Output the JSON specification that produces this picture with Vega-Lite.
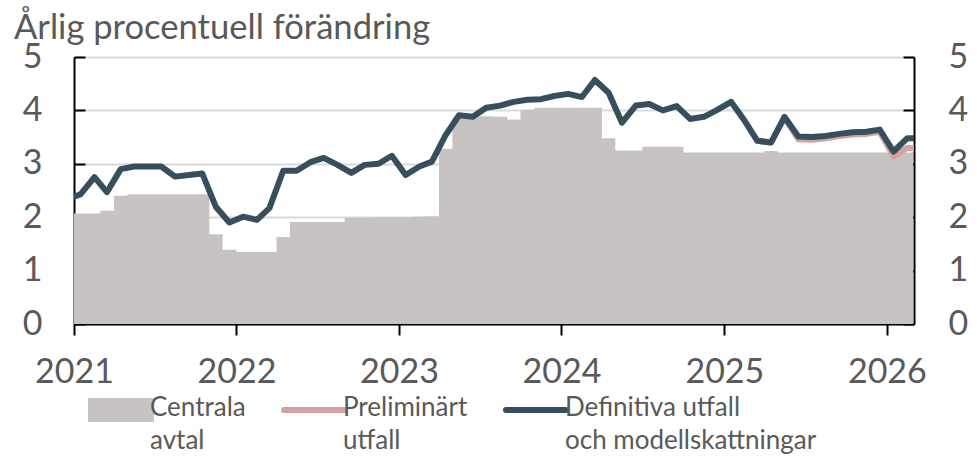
{
  "$schema": "https://vega.github.io/schema/vega-lite/v6.json",
  "width": 840,
  "height": 267,
  "autosize": {"type": "none"},
  "padding": {"left": 74, "top": 57, "right": 63, "bottom": 133},
  "background": "white",
  "config": {
    "view": {"stroke": null},
    "font": "Lato"
  },
  "title": {
    "text": "Årlig procentuell förändring",
    "anchor": "start",
    "frame": "group",
    "dx": -60,
    "offset": -7,
    "font": "Lato",
    "fontSize": 34.6,
    "fontWeight": "normal",
    "color": "#595959"
  },
  "datasets": {
    "avtal": [
      {"date": "2021-01-01T00:00", "value": 2.07, "serie": "Centrala avtal"},
      {"date": "2021-02-01T00:00", "value": 2.07, "serie": "Centrala avtal"},
      {"date": "2021-03-01T00:00", "value": 2.12, "serie": "Centrala avtal"},
      {"date": "2021-04-01T00:00", "value": 2.40, "serie": "Centrala avtal"},
      {"date": "2021-05-01T00:00", "value": 2.43, "serie": "Centrala avtal"},
      {"date": "2021-06-01T00:00", "value": 2.43, "serie": "Centrala avtal"},
      {"date": "2021-07-01T00:00", "value": 2.43, "serie": "Centrala avtal"},
      {"date": "2021-08-01T00:00", "value": 2.43, "serie": "Centrala avtal"},
      {"date": "2021-09-01T00:00", "value": 2.43, "serie": "Centrala avtal"},
      {"date": "2021-10-01T00:00", "value": 2.43, "serie": "Centrala avtal"},
      {"date": "2021-11-01T00:00", "value": 1.68, "serie": "Centrala avtal"},
      {"date": "2021-12-01T00:00", "value": 1.39, "serie": "Centrala avtal"},
      {"date": "2022-01-01T00:00", "value": 1.35, "serie": "Centrala avtal"},
      {"date": "2022-02-01T00:00", "value": 1.35, "serie": "Centrala avtal"},
      {"date": "2022-03-01T00:00", "value": 1.35, "serie": "Centrala avtal"},
      {"date": "2022-04-01T00:00", "value": 1.63, "serie": "Centrala avtal"},
      {"date": "2022-05-01T00:00", "value": 1.91, "serie": "Centrala avtal"},
      {"date": "2022-06-01T00:00", "value": 1.91, "serie": "Centrala avtal"},
      {"date": "2022-07-01T00:00", "value": 1.91, "serie": "Centrala avtal"},
      {"date": "2022-08-01T00:00", "value": 1.91, "serie": "Centrala avtal"},
      {"date": "2022-09-01T00:00", "value": 1.99, "serie": "Centrala avtal"},
      {"date": "2022-10-01T00:00", "value": 1.99, "serie": "Centrala avtal"},
      {"date": "2022-11-01T00:00", "value": 2.00, "serie": "Centrala avtal"},
      {"date": "2022-12-01T00:00", "value": 2.00, "serie": "Centrala avtal"},
      {"date": "2023-01-01T00:00", "value": 2.00, "serie": "Centrala avtal"},
      {"date": "2023-02-01T00:00", "value": 2.01, "serie": "Centrala avtal"},
      {"date": "2023-03-01T00:00", "value": 2.02, "serie": "Centrala avtal"},
      {"date": "2023-04-01T00:00", "value": 3.28, "serie": "Centrala avtal"},
      {"date": "2023-05-01T00:00", "value": 3.86, "serie": "Centrala avtal"},
      {"date": "2023-06-01T00:00", "value": 3.88, "serie": "Centrala avtal"},
      {"date": "2023-07-01T00:00", "value": 3.89, "serie": "Centrala avtal"},
      {"date": "2023-08-01T00:00", "value": 3.88, "serie": "Centrala avtal"},
      {"date": "2023-09-01T00:00", "value": 3.83, "serie": "Centrala avtal"},
      {"date": "2023-10-01T00:00", "value": 4.01, "serie": "Centrala avtal"},
      {"date": "2023-11-01T00:00", "value": 4.05, "serie": "Centrala avtal"},
      {"date": "2023-12-01T00:00", "value": 4.05, "serie": "Centrala avtal"},
      {"date": "2024-01-01T00:00", "value": 4.05, "serie": "Centrala avtal"},
      {"date": "2024-02-01T00:00", "value": 4.05, "serie": "Centrala avtal"},
      {"date": "2024-03-01T00:00", "value": 4.05, "serie": "Centrala avtal"},
      {"date": "2024-04-01T00:00", "value": 3.48, "serie": "Centrala avtal"},
      {"date": "2024-05-01T00:00", "value": 3.25, "serie": "Centrala avtal"},
      {"date": "2024-06-01T00:00", "value": 3.25, "serie": "Centrala avtal"},
      {"date": "2024-07-01T00:00", "value": 3.32, "serie": "Centrala avtal"},
      {"date": "2024-08-01T00:00", "value": 3.32, "serie": "Centrala avtal"},
      {"date": "2024-09-01T00:00", "value": 3.32, "serie": "Centrala avtal"},
      {"date": "2024-10-01T00:00", "value": 3.21, "serie": "Centrala avtal"},
      {"date": "2024-11-01T00:00", "value": 3.21, "serie": "Centrala avtal"},
      {"date": "2024-12-01T00:00", "value": 3.21, "serie": "Centrala avtal"},
      {"date": "2025-01-01T00:00", "value": 3.21, "serie": "Centrala avtal"},
      {"date": "2025-02-01T00:00", "value": 3.21, "serie": "Centrala avtal"},
      {"date": "2025-03-01T00:00", "value": 3.21, "serie": "Centrala avtal"},
      {"date": "2025-04-01T00:00", "value": 3.24, "serie": "Centrala avtal"},
      {"date": "2025-05-01T00:00", "value": 3.21, "serie": "Centrala avtal"},
      {"date": "2025-06-01T00:00", "value": 3.21, "serie": "Centrala avtal"},
      {"date": "2025-07-01T00:00", "value": 3.21, "serie": "Centrala avtal"},
      {"date": "2025-08-01T00:00", "value": 3.21, "serie": "Centrala avtal"},
      {"date": "2025-09-01T00:00", "value": 3.21, "serie": "Centrala avtal"},
      {"date": "2025-10-01T00:00", "value": 3.21, "serie": "Centrala avtal"},
      {"date": "2025-11-01T00:00", "value": 3.21, "serie": "Centrala avtal"},
      {"date": "2025-12-01T00:00", "value": 3.21, "serie": "Centrala avtal"},
      {"date": "2026-01-01T00:00", "value": 3.21, "serie": "Centrala avtal"},
      {"date": "2026-02-01T00:00", "value": 3.21, "serie": "Centrala avtal"},
      {"date": "2026-03-01T00:00", "value": 3.21, "serie": "Centrala avtal"}
    ],
    "prel": [
      {"date": "2025-03-16T00:00", "value": 3.43, "serie": "Preliminärt utfall"},
      {"date": "2025-04-16T00:00", "value": 3.40, "serie": "Preliminärt utfall"},
      {"date": "2025-05-16T00:00", "value": 3.86, "serie": "Preliminärt utfall"},
      {"date": "2025-06-16T00:00", "value": 3.46, "serie": "Preliminärt utfall"},
      {"date": "2025-07-16T00:00", "value": 3.45, "serie": "Preliminärt utfall"},
      {"date": "2025-08-16T00:00", "value": 3.48, "serie": "Preliminärt utfall"},
      {"date": "2025-09-16T00:00", "value": 3.52, "serie": "Preliminärt utfall"},
      {"date": "2025-10-16T00:00", "value": 3.55, "serie": "Preliminärt utfall"},
      {"date": "2025-11-16T00:00", "value": 3.56, "serie": "Preliminärt utfall"},
      {"date": "2025-12-16T00:00", "value": 3.60, "serie": "Preliminärt utfall"},
      {"date": "2026-01-16T00:00", "value": 3.14, "serie": "Preliminärt utfall"},
      {"date": "2026-02-16T00:00", "value": 3.30, "serie": "Preliminärt utfall"},
      {"date": "2026-03-16T00:00", "value": 3.28, "serie": "Preliminärt utfall"}
    ],
    "def": [
      {"date": "2020-12-16T00:00", "value": 2.33, "serie": "Definitiva utfall och modellskattningar"},
      {"date": "2021-01-16T00:00", "value": 2.43, "serie": "Definitiva utfall och modellskattningar"},
      {"date": "2021-02-16T00:00", "value": 2.75, "serie": "Definitiva utfall och modellskattningar"},
      {"date": "2021-03-16T00:00", "value": 2.47, "serie": "Definitiva utfall och modellskattningar"},
      {"date": "2021-04-16T00:00", "value": 2.90, "serie": "Definitiva utfall och modellskattningar"},
      {"date": "2021-05-16T00:00", "value": 2.95, "serie": "Definitiva utfall och modellskattningar"},
      {"date": "2021-06-16T00:00", "value": 2.95, "serie": "Definitiva utfall och modellskattningar"},
      {"date": "2021-07-16T00:00", "value": 2.95, "serie": "Definitiva utfall och modellskattningar"},
      {"date": "2021-08-16T00:00", "value": 2.76, "serie": "Definitiva utfall och modellskattningar"},
      {"date": "2021-09-16T00:00", "value": 2.79, "serie": "Definitiva utfall och modellskattningar"},
      {"date": "2021-10-16T00:00", "value": 2.82, "serie": "Definitiva utfall och modellskattningar"},
      {"date": "2021-11-16T00:00", "value": 2.19, "serie": "Definitiva utfall och modellskattningar"},
      {"date": "2021-12-16T00:00", "value": 1.90, "serie": "Definitiva utfall och modellskattningar"},
      {"date": "2022-01-16T00:00", "value": 2.01, "serie": "Definitiva utfall och modellskattningar"},
      {"date": "2022-02-16T00:00", "value": 1.95, "serie": "Definitiva utfall och modellskattningar"},
      {"date": "2022-03-16T00:00", "value": 2.17, "serie": "Definitiva utfall och modellskattningar"},
      {"date": "2022-04-16T00:00", "value": 2.87, "serie": "Definitiva utfall och modellskattningar"},
      {"date": "2022-05-16T00:00", "value": 2.87, "serie": "Definitiva utfall och modellskattningar"},
      {"date": "2022-06-16T00:00", "value": 3.03, "serie": "Definitiva utfall och modellskattningar"},
      {"date": "2022-07-16T00:00", "value": 3.11, "serie": "Definitiva utfall och modellskattningar"},
      {"date": "2022-08-16T00:00", "value": 2.98, "serie": "Definitiva utfall och modellskattningar"},
      {"date": "2022-09-16T00:00", "value": 2.83, "serie": "Definitiva utfall och modellskattningar"},
      {"date": "2022-10-16T00:00", "value": 2.98, "serie": "Definitiva utfall och modellskattningar"},
      {"date": "2022-11-16T00:00", "value": 3.00, "serie": "Definitiva utfall och modellskattningar"},
      {"date": "2022-12-16T00:00", "value": 3.15, "serie": "Definitiva utfall och modellskattningar"},
      {"date": "2023-01-16T00:00", "value": 2.79, "serie": "Definitiva utfall och modellskattningar"},
      {"date": "2023-02-16T00:00", "value": 2.95, "serie": "Definitiva utfall och modellskattningar"},
      {"date": "2023-03-16T00:00", "value": 3.04, "serie": "Definitiva utfall och modellskattningar"},
      {"date": "2023-04-16T00:00", "value": 3.54, "serie": "Definitiva utfall och modellskattningar"},
      {"date": "2023-05-16T00:00", "value": 3.91, "serie": "Definitiva utfall och modellskattningar"},
      {"date": "2023-06-16T00:00", "value": 3.88, "serie": "Definitiva utfall och modellskattningar"},
      {"date": "2023-07-16T00:00", "value": 4.05, "serie": "Definitiva utfall och modellskattningar"},
      {"date": "2023-08-16T00:00", "value": 4.09, "serie": "Definitiva utfall och modellskattningar"},
      {"date": "2023-09-16T00:00", "value": 4.16, "serie": "Definitiva utfall och modellskattningar"},
      {"date": "2023-10-16T00:00", "value": 4.20, "serie": "Definitiva utfall och modellskattningar"},
      {"date": "2023-11-16T00:00", "value": 4.21, "serie": "Definitiva utfall och modellskattningar"},
      {"date": "2023-12-16T00:00", "value": 4.27, "serie": "Definitiva utfall och modellskattningar"},
      {"date": "2024-01-16T00:00", "value": 4.31, "serie": "Definitiva utfall och modellskattningar"},
      {"date": "2024-02-16T00:00", "value": 4.25, "serie": "Definitiva utfall och modellskattningar"},
      {"date": "2024-03-16T00:00", "value": 4.57, "serie": "Definitiva utfall och modellskattningar"},
      {"date": "2024-04-16T00:00", "value": 4.33, "serie": "Definitiva utfall och modellskattningar"},
      {"date": "2024-05-16T00:00", "value": 3.77, "serie": "Definitiva utfall och modellskattningar"},
      {"date": "2024-06-16T00:00", "value": 4.09, "serie": "Definitiva utfall och modellskattningar"},
      {"date": "2024-07-16T00:00", "value": 4.12, "serie": "Definitiva utfall och modellskattningar"},
      {"date": "2024-08-16T00:00", "value": 4.00, "serie": "Definitiva utfall och modellskattningar"},
      {"date": "2024-09-16T00:00", "value": 4.08, "serie": "Definitiva utfall och modellskattningar"},
      {"date": "2024-10-16T00:00", "value": 3.84, "serie": "Definitiva utfall och modellskattningar"},
      {"date": "2024-11-16T00:00", "value": 3.88, "serie": "Definitiva utfall och modellskattningar"},
      {"date": "2024-12-16T00:00", "value": 4.01, "serie": "Definitiva utfall och modellskattningar"},
      {"date": "2025-01-16T00:00", "value": 4.16, "serie": "Definitiva utfall och modellskattningar"},
      {"date": "2025-02-16T00:00", "value": 3.80, "serie": "Definitiva utfall och modellskattningar"},
      {"date": "2025-03-16T00:00", "value": 3.43, "serie": "Definitiva utfall och modellskattningar"},
      {"date": "2025-04-16T00:00", "value": 3.40, "serie": "Definitiva utfall och modellskattningar"},
      {"date": "2025-05-16T00:00", "value": 3.88, "serie": "Definitiva utfall och modellskattningar"},
      {"date": "2025-06-16T00:00", "value": 3.51, "serie": "Definitiva utfall och modellskattningar"},
      {"date": "2025-07-16T00:00", "value": 3.50, "serie": "Definitiva utfall och modellskattningar"},
      {"date": "2025-08-16T00:00", "value": 3.52, "serie": "Definitiva utfall och modellskattningar"},
      {"date": "2025-09-16T00:00", "value": 3.56, "serie": "Definitiva utfall och modellskattningar"},
      {"date": "2025-10-16T00:00", "value": 3.59, "serie": "Definitiva utfall och modellskattningar"},
      {"date": "2025-11-16T00:00", "value": 3.60, "serie": "Definitiva utfall och modellskattningar"},
      {"date": "2025-12-16T00:00", "value": 3.64, "serie": "Definitiva utfall och modellskattningar"},
      {"date": "2026-01-16T00:00", "value": 3.23, "serie": "Definitiva utfall och modellskattningar"},
      {"date": "2026-02-16T00:00", "value": 3.48, "serie": "Definitiva utfall och modellskattningar"},
      {"date": "2026-03-16T00:00", "value": 3.48, "serie": "Definitiva utfall och modellskattningar"}
    ]
  },
  "resolve": {"axis": {"y": "independent"}},
  "layer": [
    {
      "data": {"name": "avtal"},
      "mark": {"type": "area", "clip": true, "interpolate": "step-after"},
      "encoding": {
        "x": {
          "field": "date",
          "type": "temporal",
          "scale": {"domain": [{"year": 2021, "month": 1, "date": 1}, {"year": 2026, "month": 3, "date": 3}]},
          "axis": {
            "title": null,
            "values": [{"year": 2021, "month": 1, "date": 1}, {"year": 2022, "month": 1, "date": 1}, {"year": 2023, "month": 1, "date": 1}, {"year": 2024, "month": 1, "date": 1}, {"year": 2025, "month": 1, "date": 1}, {"year": 2026, "month": 1, "date": 1}],
            "format": "%Y",
            "formatType": "time",
            "labelFlush": false,
            "labelOverlap": false,
            "grid": false,
            "domainColor": "#000000",
            "domainWidth": 2,
            "tickColor": "#000000",
            "tickWidth": 2,
            "tickSize": 11,
            "labelPadding": 20,
            "labelFont": "Lato",
            "labelFontSize": 34,
            "labelColor": "#595959"
          }
        },
        "y": {
          "field": "value",
          "type": "quantitative",
          "scale": {"domain": [0, 5], "nice": false},
          "axis": {
            "title": null,
            "orient": "left",
            "values": [0, 1, 2, 3, 4, 5],
            "grid": true,
            "gridColor": "#D9D9D9",
            "gridWidth": 2,
            "domainColor": "#000000",
            "domainWidth": 2,
            "tickColor": "#000000",
            "tickWidth": 2,
            "tickSize": -11,
            "labelPadding": 43,
            "labelFont": "Lato",
            "labelFontSize": 34,
            "labelColor": "#595959"
          }
        },
        "color": {
          "field": "serie",
          "type": "nominal",
          "scale": {
            "domain": ["Centrala avtal", "Preliminärt utfall", "Definitiva utfall och modellskattningar"],
            "range": ["#C8C3C3", "#D4A0A0", "#374F5C"]
          },
          "legend": {
            "title": null,
            "orient": "none",
            "legendX": 14,
            "legendY": 320,
            "direction": "horizontal",
            "padding": 0,
            "symbolSize": 3600,
            "symbolStrokeWidth": 6,
            "labelFont": "Lato",
            "labelFontSize": 26,
            "labelColor": "#595959",
            "labelOffset": -4,
            "labelLimit": 400,
            "columnPadding": 26,
            "labelExpr": "datum.label == 'Centrala avtal' ? ['Centrala', 'avtal'] : datum.label == 'Preliminärt utfall' ? ['Preliminärt', 'utfall'] : ['Definitiva utfall', 'och modellskattningar']",
            "encode": {
              "symbols": {
                "update": {
                  "shape": {"signal": "datum.value == 'Centrala avtal' ? 'M-1,-0.3H1V0.3H-1Z' : 'M-1,0H1'"},
                  "fill": {"signal": "datum.value == 'Centrala avtal' ? '#C8C3C3' : 'transparent'"},
                  "stroke": {"signal": "datum.value == 'Centrala avtal' ? 'transparent' : datum.value == 'Preliminärt utfall' ? '#D4A0A0' : '#374F5C'"},
                  "strokeWidth": {"value": 6},
                  "strokeCap": {"value": "round"},
                  "opacity": {"value": 1},
                  "fillOpacity": {"value": 1},
                  "strokeOpacity": {"value": 1}
                }
              },
              "labels": {
                "update": {
                  "baseline": {"value": "top"},
                  "dy": {"value": -15},
                  "lineHeight": {"value": 33}
                }
              }
            }
          }
        }
      }
    },
    {
      "data": {"name": "prel"},
      "mark": {"type": "line", "clip": true, "strokeWidth": 6, "strokeJoin": "round"},
      "encoding": {
        "x": {"field": "date", "type": "temporal"},
        "y": {"field": "value", "type": "quantitative", "axis": null},
        "color": {"field": "serie", "type": "nominal"}
      }
    },
    {
      "data": {"name": "def"},
      "mark": {"type": "line", "clip": true, "strokeWidth": 6, "strokeJoin": "round"},
      "encoding": {
        "x": {"field": "date", "type": "temporal"},
        "y": {
          "field": "value",
          "type": "quantitative",
          "axis": {
            "title": null,
            "orient": "right",
            "values": [0, 1, 2, 3, 4, 5],
            "grid": false,
            "domainColor": "#000000",
            "domainWidth": 2,
            "tickColor": "#000000",
            "tickWidth": 2,
            "tickSize": -11,
            "labelPadding": 45,
            "labelFont": "Lato",
            "labelFontSize": 34,
            "labelColor": "#595959"
          }
        },
        "color": {"field": "serie", "type": "nominal"}
      }
    }
  ]
}
